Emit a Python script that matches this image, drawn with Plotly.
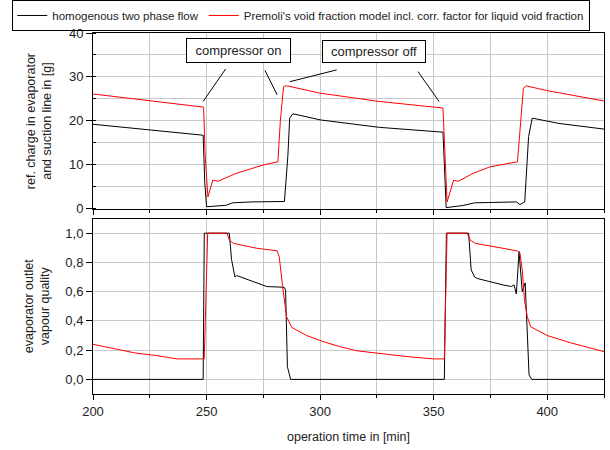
import plotly.graph_objects as go
from plotly.subplots import make_subplots

# ---- data: refrigerant charge in evaporator and suction line [g] ----
t_charge_homog = [200, 225, 248.5, 249.2, 250, 258.7, 261.5, 270, 284.3, 285.8, 286.6, 288,
                  300, 326, 354.1, 355.5, 363, 368.1, 386.5, 388, 390.1, 391.8, 393.4, 405, 425]
m_charge_homog = [19.2, 17.9, 16.7, 6.0, 0.4, 0.75, 1.3, 1.5, 1.6, 12.0, 20.6, 21.6,
                  20.2, 18.5, 17.4, 0.2, 0.7, 1.3, 1.5, 0.9, 1.5, 16.4, 20.6, 19.4, 18.1]

t_charge_premoli = [200, 248.7, 249.4, 250.6, 252.8, 255, 263, 274.8, 281.4, 282.5, 283.9, 285.1,
                    299.8, 326, 354.1, 354.9, 355.9, 358.8, 360.8, 367.3, 374.8, 386.9, 388.2,
                    389.5, 390.8, 399.6, 425]
m_charge_premoli = [26.1, 23.1, 12.0, 2.65, 6.5, 6.2, 8.0, 9.9, 10.65, 20.0, 27.8, 28.0,
                    26.3, 24.4, 22.9, 12.0, 1.5, 6.5, 6.2, 8.0, 9.5, 10.65, 20.0,
                    27.4, 27.95, 26.9, 24.5]

# ---- data: evaporator outlet vapour quality [-] ----
t_qual_homog = [200, 248.5, 249, 260, 261, 262.5, 263.3, 276.5, 284.2, 284.8, 285.6, 287,
                354.7, 355.6, 365.4, 366.5, 368, 369.2, 380.5, 384.2, 385.4, 386.4, 387.6,
                389, 390.3, 390.9, 392, 393.2, 425]
x_qual_homog = [0, 0, 1, 1, 0.82, 0.70, 0.71, 0.635, 0.63, 0.61, 0.087, 0,
                0, 1, 1, 0.75, 0.70, 0.69, 0.646, 0.635, 0.646, 0.584, 0.874,
                0.60, 0.66, 0.41, 0.03, 0, 0]

t_qual_premoli = [200, 218.8, 227.4, 235, 237, 249, 250.5, 259, 260, 261.8, 272, 281, 282,
                  283.5, 285.2, 287.5, 294, 301.4, 308.7, 316, 325, 331, 337, 344, 350,
                  354.7, 355.9, 364.7, 366.2, 368.4, 375, 380.9, 386.8, 388, 389, 390,
                  391.2, 392.7, 400, 410.3, 425]
x_qual_premoli = [0.24, 0.18, 0.164, 0.143, 0.14, 0.14, 1.0, 1.0, 0.954, 0.93, 0.897, 0.88, 0.84,
                  0.635, 0.43, 0.356, 0.30, 0.258, 0.224, 0.196, 0.178, 0.165, 0.158, 0.148, 0.14,
                  0.14, 1.0, 1.0, 0.95, 0.93, 0.91, 0.893, 0.879, 0.863, 0.75, 0.54,
                  0.43, 0.36, 0.30, 0.25, 0.19]

name_homog = "homogenous two phase flow"
name_premoli = "Premoli's void fraction model incl. corr. factor for liquid void fraction"

FONT = "Liberation Sans, Arial, sans-serif"
GRID = "#c8c8c8"

fig = make_subplots(rows=2, cols=1, shared_xaxes=True, vertical_spacing=0.03)

fig.add_trace(go.Scatter(x=t_charge_homog, y=m_charge_homog, mode="lines", name=name_homog,
                         line=dict(color="black", width=1), legendgroup="h"), row=1, col=1)
fig.add_trace(go.Scatter(x=t_charge_premoli, y=m_charge_premoli, mode="lines", name=name_premoli,
                         line=dict(color="#ff0000", width=1), legendgroup="p"), row=1, col=1)
fig.add_trace(go.Scatter(x=t_qual_homog, y=x_qual_homog, mode="lines", name=name_homog,
                         line=dict(color="black", width=1), legendgroup="h", showlegend=False),
              row=2, col=1)
fig.add_trace(go.Scatter(x=t_qual_premoli, y=x_qual_premoli, mode="lines", name=name_premoli,
                         line=dict(color="#ff0000", width=1), legendgroup="p", showlegend=False),
              row=2, col=1)

xcommon = dict(range=[200, 425], dtick=50, tick0=200, showgrid=True, gridcolor=GRID, gridwidth=1,
               showline=True, linecolor="black", linewidth=1, mirror=True, zeroline=False,
               ticks="outside", ticklen=5, tickcolor="black",
               minor=dict(dtick=25, tick0=200, showgrid=True, gridcolor=GRID, ticks="outside",
                          ticklen=3, tickcolor="black"),
               tickfont=dict(size=13, color="#222"))
fig.update_xaxes(**xcommon)
fig.update_xaxes(showticklabels=False, row=1, col=1)
fig.update_xaxes(title=dict(text="operation time in [min]", font=dict(size=12.5, color="#222"),
                            standoff=14), row=2, col=1)

fig.update_yaxes(domain=[0.512, 1.0], range=[-0.15, 40], dtick=10, tick0=0,
                 showgrid=True, gridcolor=GRID, showline=True, linecolor="black", linewidth=1,
                 mirror=True, zeroline=False, ticks="outside", ticklen=6, tickcolor="black",
                 minor=dict(dtick=5, tick0=0, showgrid=True, gridcolor=GRID, ticks="inside",
                            ticklen=3, tickcolor="black"),
                 tickfont=dict(size=13, color="#222"),
                 title=dict(text="ref. charge in evaporator<br>and suction line in [g]",
                            font=dict(size=12.5, color="#222"), standoff=14),
                 row=1, col=1)
fig.update_yaxes(domain=[0.0, 0.486], range=[-0.1, 1.1], dtick=0.2, tick0=0, tickformat=".1f",
                 showgrid=True, gridcolor=GRID, showline=True, linecolor="black", linewidth=1,
                 mirror=True, zeroline=False, ticks="outside", ticklen=6, tickcolor="black",
                 tickfont=dict(size=13, color="#222"),
                 title=dict(text="evaporator outlet<br>vapour quality",
                            font=dict(size=12.5, color="#222"), standoff=12),
                 row=2, col=1)

# annotation boxes
fig.add_annotation(x=264.2, y=35.9, xref="x", yref="y", text="compressor on", showarrow=False,
                   font=dict(size=13, color="#222", family=FONT), bgcolor="white",
                   bordercolor="black", borderwidth=1, borderpad=4, width=95, height=15)
fig.add_annotation(x=323.6, y=35.7, xref="x", yref="y", text="compressor off", showarrow=False,
                   font=dict(size=13, color="#222", family=FONT), bgcolor="white",
                   bordercolor="black", borderwidth=1, borderpad=4, width=94, height=13)

# leader lines
leaders = [((258.4, 31.8), (248.5, 24.4)),
           ((275.7, 31.5), (281.1, 25.9)),
           ((307.3, 31.6), (286.7, 28.9)),
           ((343.1, 31.2), (352.4, 24.4))]
for (x0, y0), (x1, y1) in leaders:
    fig.add_shape(type="line", x0=x0, y0=y0, x1=x1, y1=y1, xref="x", yref="y",
                  line=dict(color="black", width=1))

fig.update_layout(
    width=610, height=450,
    margin=dict(l=93, r=6, t=33, b=56, autoexpand=False),
    paper_bgcolor="white", plot_bgcolor="white",
    font=dict(family=FONT, color="#222"),
    separators=",.",
    legend=dict(orientation="h", x=-0.158, xanchor="left", y=1.0915, yanchor="top",
                bordercolor="black", borderwidth=1, bgcolor="rgba(255,255,255,0)",
                font=dict(size=11.5, color="#222"), itemwidth=30, tracegroupgap=0),
    showlegend=True,
)

fig.write_html("out.html", config={"displayModeBar": False},
               post_script="document.body.style.margin='0';")
